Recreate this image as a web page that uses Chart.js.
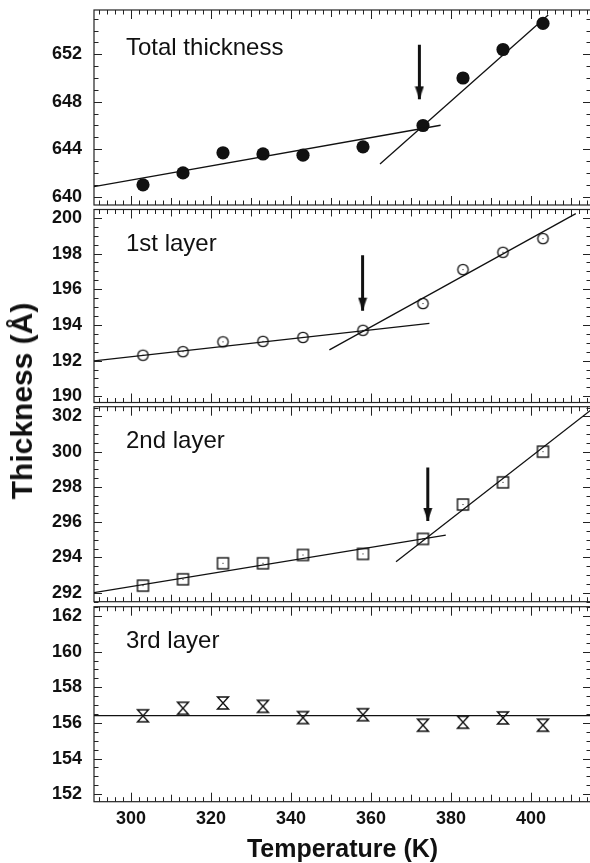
<!DOCTYPE html>
<html>
<head>
<meta charset="utf-8">
<title>Thickness vs temperature</title>
<script src="https://cdn.jsdelivr.net/npm/chart.js@4.4.1/dist/chart.umd.min.js"></script>
<style>
  html, body { margin: 0; padding: 0; background: #fff; overflow: hidden; }
  #wrap { position: relative; width: 590px; height: 863px; overflow: hidden; }
  #wrap canvas { position: absolute; left: 0; }
  #ytitle {
    position: absolute; left: 22px; top: 401px;
    transform: translate(-50%, -50%) rotate(-90deg);
    font: bold 30px "Liberation Sans", Arial, sans-serif;
    color: #111; white-space: nowrap;
  }
</style>
</head>
<body>
<div id="wrap">
  <canvas id="p1" width="591" height="215" style="top:0px"></canvas>
  <canvas id="p2" width="591" height="214" style="top:199px"></canvas>
  <canvas id="p3" width="591" height="216" style="top:396px"></canvas>
  <canvas id="p4" width="591" height="267" style="top:596px"></canvas>
  <div id="ytitle">Thickness (Å)</div>
</div>
<script>
// measured temperatures (K)
const temps = [303, 313, 323, 333, 343, 358, 373, 383, 393, 403];

// thickness values (Å)
const totalThickness = [641.0, 642.0, 643.7, 643.6, 643.5, 644.2, 646.0, 650.0, 652.4, 654.6];
const layer1 = [192.3, 192.5, 193.05, 193.08, 193.3, 193.7, 195.2, 197.1, 198.07, 198.84];
const layer2 = [292.4, 292.76, 293.67, 293.67, 294.14, 294.2, 295.05, 297.0, 298.26, 300.0];
const layer3 = [156.4, 156.82, 157.12, 156.93, 156.3, 156.46, 155.87, 156.04, 156.28, 155.87];

// linear fits, [T, thickness] end points
const fitTotalLow = [[290.75, 640.84], [377.4, 646.02]];
const fitTotalHigh = [[362.25, 642.76], [404.3, 655.3]];
const fit1Low = [[290.75, 191.98], [374.6, 194.09]];
const fit1High = [[349.6, 192.6], [411.2, 200.24]];
const fit2Low = [[290.75, 292.0], [378.7, 295.27]];
const fit2High = [[366.25, 293.76], [415.0, 302.36]];
const fit3Flat = [[290.75, 156.41], [415.0, 156.41]];

// transition arrows: [T, thickness at tail, thickness at tip]
const arrowTotal = [372.1, 652.8, 648.2];
const arrow1 = [357.9, 197.9, 194.8];
const arrow2 = [374.2, 299.1, 296.07];

// axes
const X_MIN = 290.75, X_MAX = 415.0;
const xTickLabels = [300, 320, 340, 360, 380, 400];
const yTicksTotal = [640, 644, 648, 652];
const yTicks1 = [190, 192, 194, 196, 198, 200];
const yTicks2 = [292, 294, 296, 298, 300, 302];
const yTicks3 = [152, 154, 156, 158, 160, 162];

const INK = '#111';
const FONT = '"Liberation Sans", Arial, sans-serif';
Chart.defaults.font.family = FONT;
Chart.defaults.color = INK;

function marker(w, h, draw) {
  const c = document.createElement('canvas');
  c.width = w; c.height = h;
  const g = c.getContext('2d');
  g.strokeStyle = INK; g.fillStyle = INK;
  draw(g);
  return c;
}

const openCircle = marker(15, 15, g => {
  g.lineWidth = 1.3;
  g.beginPath(); g.arc(7.5, 7.5, 5.2, 0, Math.PI * 2); g.stroke();
  g.fillRect(7, 7, 1, 1);
});
const dotSquare = marker(15, 15, g => {
  g.lineWidth = 1.4;
  g.strokeRect(2, 2, 11, 11);
  g.fillRect(7, 7, 1, 1);
});
const hourglass = marker(16, 16, g => {
  g.lineWidth = 1.4;
  g.beginPath();
  g.moveTo(2.5, 2); g.lineTo(13.5, 2); g.lineTo(2.5, 14); g.lineTo(13.5, 14); g.closePath();
  g.stroke();
});
// arrow head with its tip at the image centre
const arrowHead = marker(10, 28, g => {
  g.beginPath(); g.moveTo(0.5, 1); g.lineTo(9.5, 1); g.lineTo(5, 14); g.closePath(); g.fill();
});

const pts = (vals) => temps.map((t, i) => ({ x: t, y: vals[i] }));
const seg = (pairs) => pairs.map(p => ({ x: p[0], y: p[1] }));

function pointSet(vals, style) {
  const ds = { data: pts(vals), pointStyle: style, pointRadius: 6, borderColor: INK, backgroundColor: INK, borderWidth: 0 };
  if (style === 'circle') ds.pointRadius = 6.6;
  return ds;
}
function fitSet(pairs) {
  return { data: seg(pairs), showLine: true, borderColor: INK, borderWidth: 1.3, pointRadius: 0 };
}
function arrowSet(a) {
  return {
    data: [{ x: a[0], y: a[1] }, { x: a[0], y: a[2] }],
    showLine: true, borderColor: INK, borderWidth: 3, borderCapStyle: 'butt',
    pointRadius: [0, 1], pointStyle: arrowHead
  };
}

// box around each panel with inward ticks on all four sides
const frameTicks = {
  id: 'frameTicks',
  beforeDatasetsDraw(chart, args, opts) {
    const { ctx, chartArea: a, scales: { x, y } } = chart;
    ctx.save();
    ctx.strokeStyle = '#222';
    ctx.lineWidth = 1.2;
    ctx.strokeRect(a.left, a.top, a.right - a.left, a.bottom - a.top);
    ctx.lineWidth = 1;
    ctx.beginPath();
    for (let v = Math.ceil(x.min / 2) * 2; v <= x.max; v += 2) {
      const len = v % 20 === 0 ? 9 : (v % 10 === 0 ? 7 : 4.5);
      const px = Math.round(x.getPixelForValue(v)) + 0.5;
      ctx.moveTo(px, a.bottom); ctx.lineTo(px, a.bottom - len);
      ctx.moveTo(px, a.top); ctx.lineTo(px, a.top + len);
    }
    for (let v = Math.ceil(y.min / opts.minor) * opts.minor; v <= y.max; v += opts.minor) {
      const r = v / opts.major;
      const len = Math.abs(r - Math.round(r)) < 1e-6 ? 8 : 4.5;
      const py = Math.round(y.getPixelForValue(v)) + 0.5;
      ctx.moveTo(a.left, py); ctx.lineTo(a.left + len, py);
      ctx.moveTo(a.right, py); ctx.lineTo(a.right - len, py);
    }
    ctx.stroke();
    ctx.restore();
  }
};

const panelLabel = {
  id: 'panelLabel',
  afterDatasetsDraw(chart, args, opts) {
    const { ctx, chartArea: a } = chart;
    ctx.save();
    ctx.font = '24px ' + FONT;
    ctx.fillStyle = INK;
    ctx.textBaseline = 'alphabetic';
    ctx.fillText(opts.text, a.left + 32, a.top + opts.dy);
    ctx.restore();
  }
};

function buildPanel(id, p) {
  return new Chart(document.getElementById(id), {
    type: 'scatter',
    data: { datasets: p.datasets },
    options: {
      responsive: false,
      animation: false,
      layout: { autoPadding: false, padding: { top: p.padTop, bottom: p.padBottom, left: 0, right: 0 } },
      plugins: {
        legend: { display: false },
        tooltip: { enabled: false },
        frameTicks: { minor: p.yMinor, major: p.yMajor },
        panelLabel: { text: p.label, dy: p.labelDy }
      },
      scales: {
        x: {
          type: 'linear', min: X_MIN, max: X_MAX,
          display: p.showX,
          afterBuildTicks: s => { s.ticks = xTickLabels.map(v => ({ value: v })); },
          afterFit: s => {
            s.paddingLeft = 0; s.paddingRight = 0;
            if (p.showX) s.height = 61.3;
          },
          grid: { display: false, drawTicks: false },
          border: { display: false },
          ticks: { padding: 7, font: { size: 18, weight: 'bold' }, color: INK, maxRotation: 0 },
          title: {
            display: true, text: 'Temperature (K)', color: INK,
            font: { size: 25, weight: 'bold', lineHeight: 1 },
            padding: { top: 0, bottom: 0 }
          }
        },
        y: {
          type: 'linear', min: p.yMin, max: p.yMax,
          afterBuildTicks: s => { s.ticks = p.yTicks.map(v => ({ value: v })); },
          afterFit: s => { s.width = 94; s.paddingTop = 0; s.paddingBottom = 0; },
          grid: { display: false, drawTicks: false },
          border: { display: false },
          ticks: { padding: 12, font: { size: 18, weight: 'bold' }, color: INK }
        }
      }
    },
    plugins: [frameTicks, panelLabel]
  });
}

buildPanel('p1', {
  label: 'Total thickness', labelDy: 44.5,
  padTop: 10, padBottom: 10, showX: false,
  yMin: 639.3, yMax: 655.73, yTicks: yTicksTotal, yMinor: 1, yMajor: 4,
  datasets: [fitSet(fitTotalLow), fitSet(fitTotalHigh), arrowSet(arrowTotal), pointSet(totalThickness, 'circle')]
});

buildPanel('p2', {
  label: '1st layer', labelDy: 41.2,
  padTop: 10.5, padBottom: 10.5, showX: false,
  yMin: 189.65, yMax: 200.47, yTicks: yTicks1, yMinor: 0.5, yMajor: 2,
  datasets: [fitSet(fit1Low), fitSet(fit1High), arrowSet(arrow1), pointSet(layer1, openCircle)]
});

buildPanel('p3', {
  label: '2nd layer', labelDy: 41,
  padTop: 10.7, padBottom: 10.3, showX: false,
  yMin: 291.49, yMax: 302.55, yTicks: yTicks2, yMinor: 0.5, yMajor: 2,
  datasets: [fitSet(fit2Low), fitSet(fit2High), arrowSet(arrow2), pointSet(layer2, dotSquare)]
});

buildPanel('p4', {
  label: '3rd layer', labelDy: 41.6,
  padTop: 10.7, padBottom: 0, showX: true,
  yMin: 151.58, yMax: 162.52, yTicks: yTicks3, yMinor: 0.5, yMajor: 2,
  datasets: [fitSet(fit3Flat), pointSet(layer3, hourglass)]
});
</script>
</body>
</html>
